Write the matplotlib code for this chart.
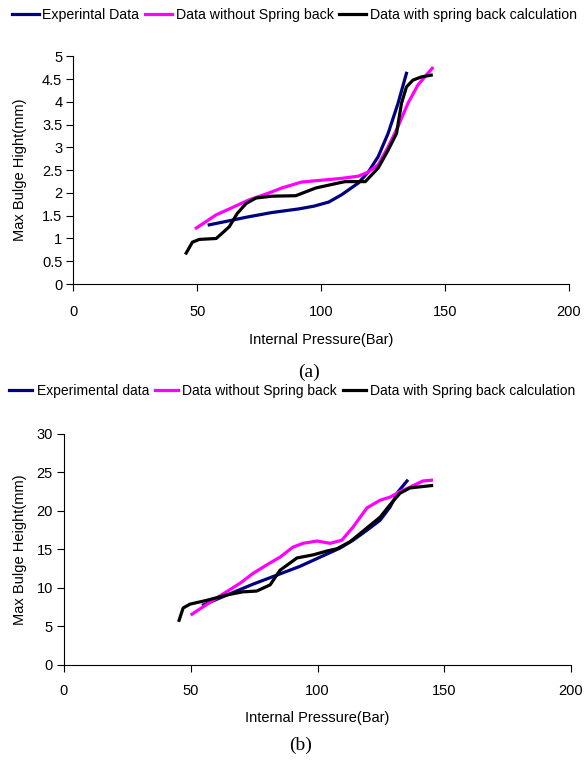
import matplotlib
matplotlib.use('Agg')
import matplotlib.pyplot as plt

plt.rcParams['font.family'] = ['Liberation Sans', 'DejaVu Sans']

# (a) max bulge height vs internal pressure
a_exp_x = [54.8, 62, 70, 80, 90.9, 97, 103, 108.2, 115, 119, 123, 127, 131, 134.4]
a_exp_y = [1.30, 1.38, 1.47, 1.57, 1.65, 1.71, 1.80, 1.96, 2.22, 2.46, 2.80, 3.31, 3.97, 4.63]
a_nosb_x = [49.6, 57.6, 62.9, 70.9, 78.9, 84.1, 92, 100, 108, 115, 119, 123, 127, 131, 135, 139, 142.4, 144.8]
a_nosb_y = [1.23, 1.52, 1.65, 1.85, 2.00, 2.11, 2.24, 2.28, 2.32, 2.37, 2.46, 2.62, 3.01, 3.46, 3.97, 4.37, 4.59, 4.74]
a_sb_x = [45.5, 48, 50.8, 57.6, 60.1, 62.9, 66.1, 69.7, 73.7, 80.1, 89.7, 97.8, 107, 109.7, 117.8,
          123, 127, 130.4, 132.4, 134.4, 137, 140.4, 144.4]
a_sb_y = [0.68, 0.92, 0.98, 1.00, 1.12, 1.26, 1.55, 1.77, 1.89, 1.93, 1.94, 2.11, 2.22, 2.25, 2.25,
          2.55, 2.94, 3.31, 3.97, 4.33, 4.48, 4.55, 4.59]

# (b)
b_exp_x = [55, 61.5, 74.6, 93, 109, 114, 119.5, 124.7, 128.6, 131.8, 135.3]
b_exp_y = [7.8, 8.7, 10.5, 12.8, 15.2, 16.2, 17.5, 18.8, 20.5, 22.5, 23.9]
b_nosb_x = [50.5, 58.8, 69.4, 74.6, 80, 85.2, 90.3, 94.3, 99.8, 105, 109.6, 114, 119.5, 124.7,
            128.6, 132.5, 136.5, 141.6, 145]
b_nosb_y = [6.6, 8.4, 10.6, 11.9, 13.0, 14.0, 15.3, 15.8, 16.1, 15.8, 16.2, 17.9, 20.4, 21.4,
            21.8, 22.5, 23.1, 23.9, 24.0]
b_sb_x = [45.4, 47, 49.7, 56.4, 64.3, 70.6, 76, 81.3, 85.2, 91.9, 98.3, 103.7, 107.7, 112.8,
          119.5, 124.7, 128.6, 132.5, 136.5, 145]
b_sb_y = [5.8, 7.4, 7.9, 8.4, 9.1, 9.5, 9.6, 10.4, 12.3, 13.9, 14.3, 14.8, 15.1, 16.0,
          17.8, 19.2, 20.8, 22.3, 23.0, 23.3]

navy = '#000080'
pink = '#ff00ff'
lw = 2.3

fig = plt.figure(figsize=(5.85, 7.61), dpi=100)
ax1 = fig.add_axes([0.1256, 0.6268, 0.847, 0.299])
ax2 = fig.add_axes([0.1094, 0.1262, 0.8667, 0.3035])

l1, = ax1.plot(a_exp_x, a_exp_y, color=navy, lw=lw, label='Experintal Data')
l2, = ax1.plot(a_nosb_x, a_nosb_y, color=pink, lw=lw, label='Data without Spring back')
l3, = ax1.plot(a_sb_x, a_sb_y, color='black', lw=lw, label='Data with spring back calculation')
ax1.set_xlim(0, 200)
ax1.set_ylim(0, 5)
ax1.set_xticks([0, 50, 100, 150, 200])
ax1.set_yticks([0, 0.5, 1, 1.5, 2, 2.5, 3, 3.5, 4, 4.5, 5])
ax1.set_yticklabels(['0', '0.5', '1', '1.5', '2', '2.5', '3', '3.5', '4', '4.5', '5'])
ax1.set_xlabel('Internal Pressure(Bar)', fontsize=10.5, labelpad=10)
ax1.set_ylabel('Max Bulge Hight(mm)', fontsize=10.5, labelpad=10.5)

m1, = ax2.plot(b_exp_x, b_exp_y, color=navy, lw=lw, label='Experimental data')
m2, = ax2.plot(b_nosb_x, b_nosb_y, color=pink, lw=lw, label='Data without Spring back')
m3, = ax2.plot(b_sb_x, b_sb_y, color='black', lw=lw, label='Data with Spring back calculation')
ax2.set_xlim(0, 200)
ax2.set_ylim(0, 30)
ax2.set_xticks([0, 50, 100, 150, 200])
ax2.set_yticks([0, 5, 10, 15, 20, 25, 30])
ax2.set_xlabel('Internal Pressure(Bar)', fontsize=10.5, labelpad=9)
ax2.set_ylabel('Max Bulge Height(mm)', fontsize=10.5, labelpad=7)

for ax in (ax1, ax2):
    ax.spines['top'].set_visible(False)
    ax.spines['right'].set_visible(False)
    ax.tick_params(direction='out', length=5, width=0.8, labelsize=10.5, pad=3)
ax1.xaxis.set_tick_params(pad=10)
ax2.xaxis.set_tick_params(pad=9)

fig.legend(handles=[l1, l2, l3], loc='center', bbox_to_anchor=(0.503, 1 - 15 / 761), ncol=3,
           frameon=False, fontsize=10.2, handlelength=1.9, handletextpad=0.25, columnspacing=0.4,
           borderpad=0)
fig.legend(handles=[m1, m2, m3], loc='center', bbox_to_anchor=(0.5, 1 - 391 / 761), ncol=3,
           frameon=False, fontsize=10, handlelength=1.65, handletextpad=0.3, columnspacing=0.45,
           borderpad=0)

fig.text(0.528, 1 - 372 / 761, '(a)', ha='center', va='center', fontsize=14,
         family='Liberation Serif')
fig.text(0.513, 1 - 745 / 761, '(b)', ha='center', va='center', fontsize=14,
         family='Liberation Serif')

fig.savefig('out.png', dpi=100)
